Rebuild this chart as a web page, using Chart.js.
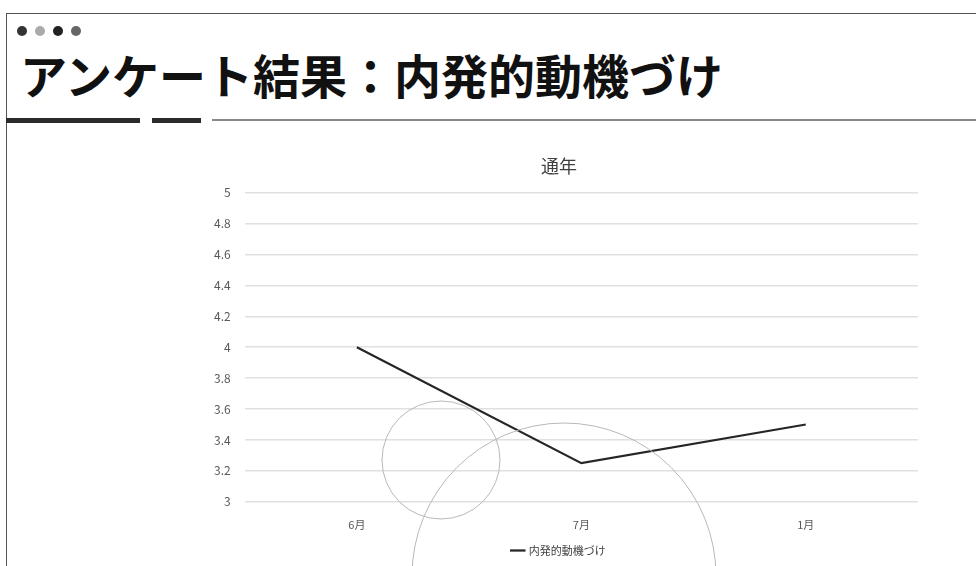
<!DOCTYPE html>
<html lang="ja">
<head>
<meta charset="utf-8">
<script src="https://cdn.jsdelivr.net/npm/chart.js@4"></script>
<style>
  html, body { margin: 0; padding: 0; background: #fff; }
  body { width: 976px; height: 566px; position: relative; overflow: hidden; font-family: "Noto Sans CJK JP", sans-serif; }
  .frame { position: absolute; left: 6px; top: 13px; right: -2px; bottom: -2px; border-left: 1.5px solid #555; border-top: 1.5px solid #555; }
  .dots { position: absolute; left: 17px; top: 26px; display: flex; gap: 8px; }
  .dots span { display: block; width: 10px; height: 10px; border-radius: 50%; }
  h1 { position: absolute; left: 20px; top: 48px; margin: 0; font-size: 47px; line-height: 1.1; font-weight: 700; color: #111; letter-spacing: 0; white-space: nowrap; }
  .bar { position: absolute; height: 5px; background: #2b2b2b; top: 118px; }
  .rule { position: absolute; left: 212px; right: 0; top: 119px; height: 2px; background: #888; }
  #wrap { position: absolute; left: 180px; top: 145px; width: 790px; height: 421px; }
</style>
</head>
<body>
<div class="frame"></div>
<div class="dots">
  <span style="background:#333"></span><span style="background:#aaa"></span><span style="background:#222"></span><span style="background:#666"></span>
</div>
<h1>アンケート結果：内発的動機づけ</h1>
<div class="bar" style="left:6px;width:134px"></div>
<div class="bar" style="left:152px;width:49px"></div>
<div class="rule"></div>
<div id="wrap"><canvas id="chart"></canvas></div>
<script>
// Survey periods and average score
const months = ['6月', '7月', '1月'];
const motivation = [4.0, 3.25, 3.5];
const seriesName = '内発的動機づけ';

// Thin decorative rings drawn over the plot (wrap sits at 180,145)
const rings = {
  id: 'rings',
  afterDraw(chart) {
    const ctx = chart.ctx;
    ctx.save();
    ctx.strokeStyle = '#b8b8b8';
    ctx.lineWidth = 1;
    ctx.beginPath();
    ctx.ellipse(441 - 180, 460 - 145, 59, 59, 0, 0, Math.PI * 2);
    ctx.stroke();
    ctx.beginPath();
    ctx.ellipse(564 - 180, 576 - 145, 152, 153, 0, 0, Math.PI * 2);
    ctx.stroke();
    ctx.restore();
  }
};

const ctx = document.getElementById('chart').getContext('2d');
new Chart(ctx, {
  type: 'line',
  data: {
    labels: months,
    datasets: [{
      label: seriesName,
      data: motivation,
      borderColor: '#262626',
      borderWidth: 2.25,
      pointRadius: 0,
      tension: 0,
      fill: false
    }]
  },
  options: {
    responsive: true,
    maintainAspectRatio: false,
    animation: false,
    layout: { padding: { left: 20, right: 52, top: 6, bottom: 0 } },
    plugins: {
      title: {
        display: true,
        text: '通年',
        color: '#404040',
        font: { family: '"Noto Sans CJK JP"', size: 18, weight: 'normal' },
        padding: { top: 4, bottom: 16 }
      },
      legend: {
        position: 'bottom',
        labels: {
          color: '#404040',
          font: { family: '"Noto Sans CJK JP"', size: 11 },
          usePointStyle: true,
          pointStyle: 'line',
          boxWidth: 24,
          padding: 6
        }
      },
      tooltip: { enabled: false }
    },
    scales: {
      x: {
        offset: true,
        grid: { display: false },
        border: { display: false },
        ticks: { color: '#595959', font: { family: '"Noto Sans CJK JP"', size: 11 }, padding: 8 }
      },
      y: {
        min: 3,
        max: 5,
        grid: { color: '#e0e0e0', lineWidth: 1.5, drawTicks: false },
        border: { display: false },
        ticks: {
          stepSize: 0.2,
          color: '#595959',
          font: { family: '"Noto Sans CJK JP"', size: 12 },
          padding: 14,
          callback: v => String(Math.round(v * 10) / 10)
        }
      }
    }
  },
  plugins: [rings]
});
</script>
</body>
</html>
